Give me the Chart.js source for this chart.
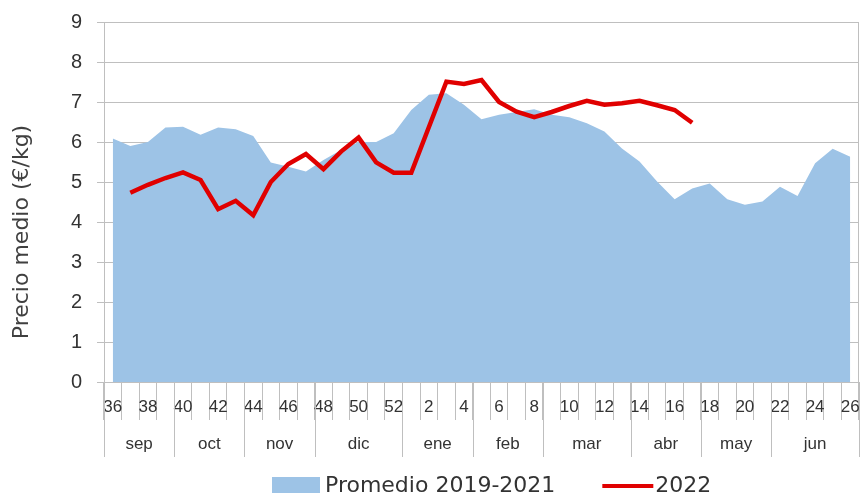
<!DOCTYPE html>
<html><head><meta charset="utf-8">
<script src="https://cdn.jsdelivr.net/npm/chart.js@4/dist/chart.umd.min.js"></script>
<style>html,body{margin:0;padding:0;background:#fff}#wrap{width:863px;height:496px;position:relative}</style>
</head><body><div id="wrap"><canvas id="c" width="863" height="496"></canvas></div>
<script>
// ---- data ----
const weeks = ['36','37','38','39','40','41','42','43','44','45','46','47','48','49','50','51','52',
  '1','2','3','4','5','6','7','8','9','10','11','12','13','14','15','16','17','18','19','20','21','22','23','24','25','26'];
const monthNames = ['sep','oct','nov','dic','ene','feb','mar','abr','may','jun'];
const monthWeekCounts = [4,4,4,5,4,4,5,4,4,5];
const promedio = [6.09,5.90,6.00,6.36,6.38,6.18,6.36,6.32,6.15,5.49,5.38,5.26,5.55,5.80,6.00,6.00,6.22,
  6.80,7.18,7.22,6.93,6.57,6.68,6.75,6.82,6.68,6.62,6.47,6.26,5.84,5.51,5.01,4.57,4.84,4.96,4.57,4.43,4.51,4.88,4.65,5.47,5.83,5.63];
const serie2022 = [null,4.73,4.93,5.10,5.24,5.05,4.32,4.53,4.17,5.00,5.45,5.70,5.32,5.76,6.11,5.49,5.23,
  5.23,6.37,7.51,7.45,7.55,7.00,6.76,6.62,6.75,6.90,7.03,6.93,6.97,7.03,6.92,6.80,6.48,
  null,null,null,null,null,null,null,null,null];
const seriesNames = ['Promedio 2019-2021','2022'];
const yTitle = 'Precio medio (€/kg)';

const GRID = '#bfbfbf';
const TEXT = '#333333';

const decor = {
  id: 'decor',
  afterDraw(chart) {
    const {ctx, chartArea: ca, scales: {x}} = chart;
    ctx.save();
    ctx.strokeStyle = GRID; ctx.lineWidth = 1;
    // right border of plot area
    ctx.beginPath(); ctx.moveTo(Math.round(ca.right) - 0.5, ca.top); ctx.lineTo(Math.round(ca.right) - 0.5, ca.bottom); ctx.stroke();
    // month row
    const half = (x.getPixelForValue(1) - x.getPixelForValue(0)) / 2;
    ctx.font = '17px "Liberation Sans", Arial, sans-serif';
    ctx.fillStyle = TEXT; ctx.textAlign = 'center'; ctx.textBaseline = 'middle';
    let idx = 0;
    const drawSep = (px) => { const p = Math.round(px) + 0.5; ctx.beginPath(); ctx.moveTo(p, ca.bottom); ctx.lineTo(p, ca.bottom + 75); ctx.stroke(); };
    drawSep(x.getPixelForValue(0) - half);
    monthNames.forEach((m, i) => {
      const s = idx, e = idx + monthWeekCounts[i] - 1;
      const left = x.getPixelForValue(s) - half, right = x.getPixelForValue(e) + half;
      ctx.fillText(m, (left + right) / 2, ca.bottom + 62);
      drawSep(right);
      idx += monthWeekCounts[i];
    });
    // y axis title
    ctx.save();
    ctx.translate(22, (ca.top + ca.bottom) / 2 + 30);
    ctx.rotate(-Math.PI / 2);
    ctx.font = '22px "DejaVu Sans", sans-serif';
    ctx.fillStyle = '#404040';
    ctx.fillText(yTitle, 0, 0);
    ctx.restore();
    // legend
    const ds = chart.data.datasets;
    ctx.font = '22px "DejaVu Sans", sans-serif';
    ctx.textAlign = 'left'; ctx.textBaseline = 'middle';
    const ly = 486;
    let lx = ca.left + 168;
    ctx.fillStyle = ds[1].backgroundColor;
    ctx.fillRect(lx, ly - 9, 48, 16);
    lx += 53;
    ctx.fillStyle = TEXT;
    ctx.fillText(ds[1].label, lx, ly);
    lx += ctx.measureText(ds[1].label).width + 47;
    ctx.strokeStyle = ds[0].borderColor; ctx.lineWidth = 4;
    ctx.beginPath(); ctx.moveTo(lx, ly); ctx.lineTo(lx + 51, ly); ctx.stroke();
    lx += 53;
    ctx.fillText(ds[0].label, lx, ly);
    ctx.restore();
  }
};

new Chart(document.getElementById('c'), {
  type: 'line',
  data: {
    labels: weeks,
    datasets: [
      { label: seriesNames[1], data: serie2022, borderColor: '#e00000', backgroundColor: '#e00000',
        borderWidth: 4.5, pointRadius: 0, fill: false, tension: 0, order: 0, spanGaps: false },
      { label: seriesNames[0], data: promedio, borderColor: 'rgba(0,0,0,0)', backgroundColor: '#9dc3e6',
        borderWidth: 0, pointRadius: 0, fill: 'origin', tension: 0, order: 1 }
    ]
  },
  options: {
    responsive: false, animation: false, devicePixelRatio: 1,
    layout: { padding: { left: 0, right: 4, top: 22, bottom: 34 } },
    plugins: { legend: { display: false }, tooltip: { enabled: false } },
    scales: {
      x: {
        offset: true,
        grid: { display: true, drawOnChartArea: false, drawTicks: true, tickLength: 38, offset: true, color: GRID },
        border: { display: true, color: GRID },
        ticks: { autoSkip: false, maxRotation: 0, minRotation: 0, padding: -23, color: TEXT,
          font: { family: '"Liberation Sans", Arial, sans-serif', size: 17 },
          callback: (v, i) => (i % 2 === 0 ? weeks[i] : '') },
        afterFit: (s) => { s.height = 80; }
      },
      y: {
        min: 0, max: 9,
        grid: { color: GRID, tickLength: 7, drawTicks: true },
        border: { display: true, color: GRID },
        ticks: { stepSize: 1, padding: 15, color: TEXT,
          font: { family: '"Liberation Sans", Arial, sans-serif', size: 20, lineHeight: 0.7 } },
        afterFit: (s) => { s.width = 104; }
      }
    }
  },
  plugins: [decor]
});
</script></body></html>
